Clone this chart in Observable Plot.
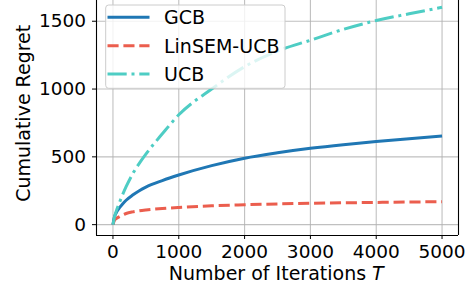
<!DOCTYPE html>
<html>
<head>
<meta charset="utf-8">
<script src="https://cdn.jsdelivr.net/npm/d3@7"></script>
<script src="https://cdn.jsdelivr.net/npm/@observablehq/plot@0.6"></script>
<style>
  html, body { margin: 0; padding: 0; background: #fff; overflow: hidden; }
  #chart svg { display: block; }
</style>
</head>
<body>
<div id="chart"></div>
<script>
// ---- data ----
const iterations   = [0, 25, 50, 100, 150, 200, 300, 400, 500, 750, 1000, 1500, 2000, 2500, 3000, 3500, 4000, 4500, 5000];
const gcbRegret    = [0, 60, 88, 125, 155, 180, 218, 250, 277, 325, 366, 435, 490, 530, 563, 590, 613, 634, 654];
const linsemRegret = [0, 35, 45, 59, 72, 82, 94, 102, 108, 119, 127, 139, 147, 153, 158, 161, 164, 167, 169];
const ucbRegret    = [0, 60, 100, 165, 225, 280, 375, 452, 520, 670, 810, 1000, 1165, 1280, 1360, 1440, 1505, 1555, 1603];
const seriesNames = ["GCB", "LinSEM-UCB", "UCB"];
const xTicks = [0, 1000, 2000, 3000, 4000, 5000];
const yTicks = [0, 500, 1000, 1500];
const xLabel = "Number of Iterations ";
const xLabelVar = "T";
const yLabel = "Cumulative Regret";

const seriesValues = [gcbRegret, linsemRegret, ucbRegret];
const rows = [];
seriesNames.forEach((name, i) => {
  iterations.forEach((t, j) => rows.push({series: name, t, regret: seriesValues[i][j]}));
});

const colors = {"GCB": "#1f77b4", "LinSEM-UCB": "#eb5e4e", "UCB": "#4ecdc4"};
const dashes = {"GCB": null, "LinSEM-UCB": "11.1 4.8", "UCB": "19.2 4.8 3 4.8"};

const xDomain = [-250, 5250];
const yDomain = [-80, 1653];
const font = "DejaVu Sans, sans-serif";

const plot = Plot.plot({
  width: 467,
  height: 290,
  marginLeft: 96,
  marginRight: 9,
  marginTop: 0,
  marginBottom: 55,
  x: {domain: xDomain},
  y: {domain: yDomain},
  style: {fontFamily: font, fontSize: "18.5px", background: "white", color: "black", overflow: "visible"},
  marks: [
    Plot.gridX(xTicks, {stroke: "#b0b0b0", strokeOpacity: 0.8, strokeWidth: 1.1}),
    Plot.gridY(yTicks, {stroke: "#b0b0b0", strokeOpacity: 0.8, strokeWidth: 1.1}),
    ...seriesNames.map(name => Plot.line(rows.filter(d => d.series === name), {
      x: "t", y: "regret", curve: "monotone-x",
      stroke: colors[name], strokeWidth: 3,
      strokeDasharray: dashes[name], strokeLinecap: "butt"
    })),
    Plot.ruleX([xDomain[0], xDomain[1]], {stroke: "black", strokeWidth: 1.1}),
    Plot.ruleY([yDomain[0]], {stroke: "black", strokeWidth: 1.1}),
    Plot.axisX(xTicks, {tickSize: 4, tickPadding: 5.3, label: null, fontSize: 18.5, tickFormat: d => String(d)}),
    Plot.axisY(yTicks, {tickSize: 4, tickPadding: 6.5, label: null, fontSize: 18.5, tickFormat: d => String(d)})
  ]
});

document.getElementById("chart").appendChild(plot);

const svg = d3.select(plot);

// axis labels
const xl = svg.append("text")
  .attr("x", 276.3).attr("y", 280)
  .attr("text-anchor", "middle")
  .attr("font-family", font).attr("font-size", 19).attr("fill", "black");
xl.append("tspan").text(xLabel);
xl.append("tspan").attr("font-style", "italic").text(xLabelVar);

svg.append("text")
  .attr("transform", "translate(30,113.3) rotate(-90)")
  .attr("text-anchor", "middle")
  .attr("font-family", font).attr("font-size", 19).attr("fill", "black")
  .text(yLabel);

// legend
const lg = svg.append("g");
lg.append("rect")
  .attr("x", 105.7).attr("y", 5).attr("width", 179.3).attr("height", 83.3)
  .attr("rx", 3).attr("fill", "white").attr("fill-opacity", 0.8)
  .attr("stroke", "#cccccc").attr("stroke-width", 1);
const rowY = [17.3, 45.7, 74];
seriesNames.forEach((name, i) => {
  lg.append("line")
    .attr("x1", 107.5).attr("x2", 149.5).attr("y1", rowY[i]).attr("y2", rowY[i])
    .attr("stroke", colors[name]).attr("stroke-width", 3)
    .attr("stroke-dasharray", dashes[name]).attr("stroke-linecap", "butt");
  lg.append("text")
    .attr("x", 164).attr("y", rowY[i] + 6.9)
    .attr("text-anchor", "start")
    .attr("font-family", font).attr("font-size", 19).attr("fill", "black")
    .text(name);
});
</script>
</body>
</html>
